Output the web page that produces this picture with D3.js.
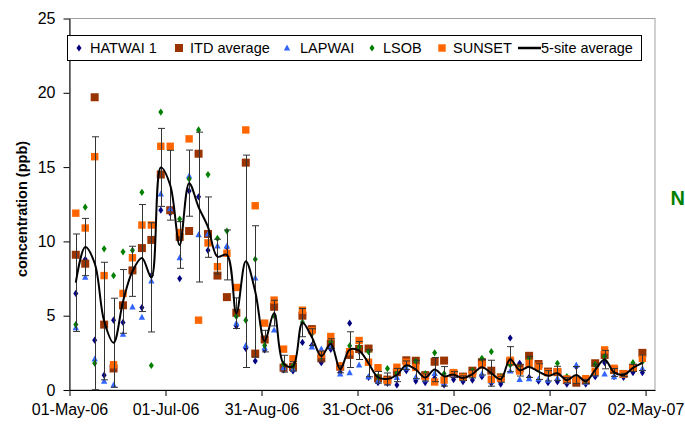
<!DOCTYPE html>
<html>
<head>
<meta charset="utf-8">
<script src="https://cdn.jsdelivr.net/npm/d3@7"></script>
<style>
  html, body { margin: 0; padding: 0; background: #fff; }
  svg { display: block; font-family: "Liberation Sans", Arial, sans-serif; }
</style>
</head>
<body>
<svg id="chart" width="685" height="425"></svg>
<script>
// Sampling dates (1-in-6 day schedule)
const dates = [
  "2006-05-05","2006-05-11","2006-05-17","2006-05-23","2006-05-29","2006-06-04","2006-06-10","2006-06-16",
  "2006-06-22","2006-06-28","2006-07-04","2006-07-10","2006-07-16","2006-07-22","2006-07-28","2006-08-03",
  "2006-08-09","2006-08-15","2006-08-21","2006-08-27","2006-09-02","2006-09-08","2006-09-14","2006-09-20",
  "2006-09-26","2006-10-02","2006-10-08","2006-10-14","2006-10-20","2006-10-26","2006-11-01","2006-11-07",
  "2006-11-13","2006-11-19","2006-11-25","2006-12-01","2006-12-07","2006-12-13","2006-12-19","2006-12-25",
  "2006-12-31","2007-01-06","2007-01-12","2007-01-18","2007-01-24","2007-01-30","2007-02-05","2007-02-11",
  "2007-02-17","2007-02-23","2007-03-01","2007-03-07","2007-03-13","2007-03-19","2007-03-25","2007-03-31",
  "2007-04-06","2007-04-12","2007-04-18","2007-04-24","2007-04-30"
];

// Concentrations (ppb) per site; null = no sample
const hatwai = [6.5,8.8,3.35,1.0,4.7,4.55,null,5.55,7.7,12.1,11.9,7.5,13.4,13.0,9.4,null,
  9.6,4.3,2.8,1.95,2.7,null,1.35,1.28,3.2,3.0,1.84,2.74,1.2,4.5,2.6,0.85,
  0.5,0.45,0.34,1.3,0.6,0.5,0.8,0.34,0.7,0.56,0.67,0.9,0.45,0.4,3.5,1.8,
  0.85,0.6,0.5,0.56,0.4,1.57,0.4,0.9,1.84,0.9,0.85,1.17,1.17];
const itd = [9.1,8.5,19.7,4.4,1.45,5.7,8.05,9.55,10.1,14.5,12.1,10.3,10.7,15.9,10.5,7.7,
  6.25,5.2,15.3,2.45,3.4,5.6,1.5,1.55,5.0,4.1,2.13,3.1,1.57,2.36,2.76,2.79,
  0.79,0.7,1.2,2.0,1.97,1.0,1.9,1.98,1.1,0.9,1.3,1.87,1.3,0.85,1.9,1.46,
  2.3,1.75,1.24,1.2,0.67,0.49,0.63,1.8,2.36,1.35,1.08,1.5,2.5];
const lapwai = [4.2,7.6,2.1,0.6,0.35,3.75,5.6,4.9,7.35,13.2,12.2,8.9,14.4,10.45,10.5,9.7,
  9.7,4.5,3.0,7.55,2.85,4.05,1.5,1.4,null,2.9,2.76,2.9,1.08,1.17,1.69,0.9,
  0.6,0.5,0.85,1.48,0.87,0.7,1.12,0.5,1.0,0.76,1.0,1.08,0.6,0.67,1.28,0.72,
  0.76,0.75,0.67,0.8,0.6,1.69,0.52,1.08,1.08,0.9,1.0,1.46,1.46];
const lsob = [4.4,12.3,1.8,9.5,7.7,9.3,9.4,13.3,1.65,18.7,16.3,11.5,14.2,17.5,14.5,10.2,
  10.7,4.95,4.7,8.8,3.0,5.0,1.75,1.62,4.56,3.78,2.25,3.24,1.5,2.97,2.9,2.58,
  0.9,1.44,1.12,1.7,1.93,1.1,2.5,1.1,1.2,0.94,1.3,2.13,2.58,0.9,1.69,1.4,
  2.07,1.5,1.2,1.8,0.9,0.63,0.6,1.73,2.25,1.3,1.1,1.84,1.9];
const sunset = [11.9,10.9,15.7,7.7,1.7,6.5,8.9,11.1,11.1,16.4,16.4,10.6,16.9,4.7,9.9,8.3,
  9.2,6.9,17.5,12.4,4.5,6.05,2.75,2.1,5.37,4.0,2.4,3.6,1.62,2.58,3.33,1.87,
  1.5,0.63,1.53,1.87,1.52,0.9,0.54,0.67,1.17,0.85,1.1,1.69,0.72,0.79,2.0,1.28,
  1.8,1.6,1.17,1.24,0.74,0.7,0.76,1.24,2.7,1.46,1.08,1.46,2.13];

// Axis ticks
const xTickDates = ["2006-05-01","2006-07-01","2006-08-31","2006-10-31","2006-12-31","2007-03-02","2007-05-02"];
const yTicks = [0, 5, 10, 15, 20, 25];

const parse = d3.utcParse("%Y-%m-%d");
const fmt = d3.utcFormat("%d-%b-%y");

const svg = d3.select("#chart");
const plot = { left: 69.5, right: 655, top: 18.5, bottom: 390 };

const x = d3.scaleUtc()
  .domain([parse("2006-05-01"), parse("2007-05-08")])
  .range([plot.left, plot.right]);
const y = d3.scaleLinear().domain([0, 25]).range([plot.bottom, plot.top]);

// plot-area frame
svg.append("rect")
  .attr("x", plot.left).attr("y", plot.top)
  .attr("width", plot.right - plot.left).attr("height", plot.bottom - plot.top)
  .attr("fill", "none").attr("stroke", "#a0a0a0").attr("stroke-width", 1);

// axes
const xAxis = d3.axisBottom(x)
  .tickValues(xTickDates.map(parse))
  .tickFormat(fmt)
  .tickSize(6).tickSizeOuter(0).tickPadding(8);
const gx = svg.append("g").attr("transform", `translate(0,${plot.bottom})`).call(xAxis);
gx.selectAll("text").attr("font-size", 16).attr("fill", "#000")
  .attr("font-family", "'Liberation Sans', Arial, sans-serif");
gx.selectAll("line, path").attr("stroke", "#000");

const yAxis = d3.axisLeft(y).tickValues(yTicks).tickSize(6).tickSizeOuter(0).tickPadding(8);
const gy = svg.append("g").attr("transform", `translate(${plot.left},0)`).call(yAxis);
gy.selectAll("text").attr("font-size", 16).attr("fill", "#000")
  .attr("font-family", "'Liberation Sans', Arial, sans-serif");
gy.selectAll("line, path").attr("stroke", "#000");

// y-axis title
svg.append("text")
  .attr("transform", `translate(27,209) rotate(-90)`)
  .attr("text-anchor", "middle")
  .attr("font-size", 14.5).attr("font-weight", "bold")
  .text("concentration (ppb)");

// marker shapes
const shapes = {
  diamond: "M0,-3.6L2.5,0L0,3.6L-2.5,0Z",
  square8: "M-4,-4H4V4H-4Z",
  square7: "M-3.7,-3.7H3.7V3.7H-3.7Z",
  triangle: "M0,-3.4L3.2,2.6H-3.2Z"
};

const series = [
  { name: "HATWAI 1",   values: hatwai, color: "#000080", shape: "diamond" },
  { name: "ITD average", values: itd,   color: "#993300", shape: "square8" },
  { name: "LAPWAI",     values: lapwai, color: "#3366ff", shape: "triangle" },
  { name: "LSOB",       values: lsob,   color: "#008000", shape: "diamond" },
  { name: "SUNSET",     values: sunset, color: "#ff6600", shape: "square7" }
];

const points = svg.append("g");
series.forEach(s => {
  const pts = s.values.map((v, i) => ({ d: parse(dates[i]), v })).filter(p => p.v != null);
  points.append("g").selectAll("path").data(pts).join("path")
    .attr("d", shapes[s.shape])
    .attr("transform", p => `translate(${x(p.d)},${y(p.v)})`)
    .attr("fill", s.color);
});

// 5-site average with standard deviation
const avg = dates.map((d, i) => {
  const vals = series.map(s => s.values[i]).filter(v => v != null);
  return { d: parse(d), mean: d3.mean(vals), sd: vals.length > 1 ? d3.deviation(vals) : 0 };
});

const eb = svg.append("g").attr("stroke", "#333").attr("stroke-width", 1).attr("fill", "none");
avg.forEach(a => {
  if (!(a.sd > 0)) return;
  const cx = Math.round(x(a.d)) + 0.5;
  const y1 = y(Math.min(25, a.mean + a.sd));
  const y0 = y(Math.max(0, a.mean - a.sd));
  eb.append("line").attr("x1", cx).attr("x2", cx).attr("y1", y1).attr("y2", y0);
  eb.append("line").attr("x1", cx - 3.5).attr("x2", cx + 3.5).attr("y1", y1).attr("y2", y1);
  if (a.mean - a.sd > 0)
    eb.append("line").attr("x1", cx - 3.5).attr("x2", cx + 3.5).attr("y1", y0).attr("y2", y0);
});

svg.append("path")
  .datum(avg)
  .attr("fill", "none").attr("stroke", "#000").attr("stroke-width", 2)
  .attr("d", d3.line().x(a => x(a.d)).y(a => y(a.mean)).curve(d3.curveCatmullRom.alpha(0.5)));

// legend
const lg = svg.append("g");
lg.append("rect").attr("x", 67.5).attr("y", 35.5).attr("width", 574).attr("height", 25)
  .attr("fill", "#fff").attr("stroke", "#000").attr("stroke-width", 1);
const legendPos = [
  { mx: 79, tx: 90 }, { mx: 179, tx: 190 }, { mx: 287, tx: 300 },
  { mx: 372, tx: 383 }, { mx: 442, tx: 453 }
];
series.forEach((s, i) => {
  lg.append("path").attr("d", shapes[s.shape])
    .attr("transform", `translate(${legendPos[i].mx},48)`).attr("fill", s.color);
  lg.append("text").attr("x", legendPos[i].tx).attr("y", 53)
    .attr("font-size", 14.5).text(s.name);
});
lg.append("line").attr("x1", 518).attr("x2", 541).attr("y1", 48).attr("y2", 48)
  .attr("stroke", "#000").attr("stroke-width", 2.5);
lg.append("text").attr("x", 541).attr("y", 53).attr("font-size", 14.5).text("5-site average");

// side label
svg.append("text").attr("x", 670.5).attr("y", 205)
  .attr("font-size", 20).attr("font-weight", "bold").attr("fill", "#008000")
  .text("N");
</script>
</body>
</html>
